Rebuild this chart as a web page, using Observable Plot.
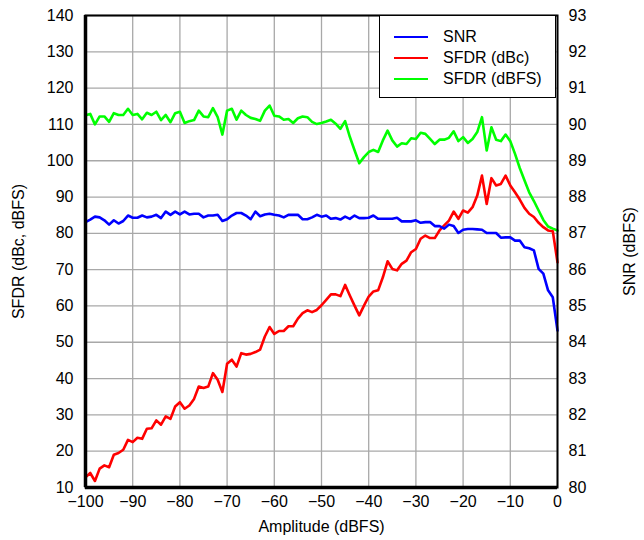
<!DOCTYPE html>
<html>
<head>
<meta charset="utf-8">
<script src="https://cdn.jsdelivr.net/npm/d3@7"></script>
<script src="https://cdn.jsdelivr.net/npm/@observablehq/plot@0.6"></script>
<style>
  html, body { margin: 0; padding: 0; background: white; }
  #wrap { position: relative; width: 644px; height: 540px; font-family: "Liberation Sans", Arial, sans-serif; }
  #legend { position: absolute; left: 379px; top: 15px; width: 175px; height: 81px; border: 1.5px solid black; background: white; }
  .row { position: absolute; left: 0; height: 20px; display: flex; align-items: center; font-size: 16px; color: black; }
  .sw { position: absolute; left: 14px; width: 34px; height: 0; border-top: 2px solid; }
  .lb { position: absolute; left: 63px; white-space: nowrap; }
</style>
</head>
<body>
<div id="wrap"></div>
<script>
const amplitude = [-100,-99,-98,-97,-96,-95,-94,-93,-92,-91,-90,-89,-88,-87,-86,-85,-84,-83,-82,-81,-80,-79,-78,-77,-76,-75,-74,-73,-72,-71,-70,-69,-68,-67,-66,-65,-64,-63,-62,-61,-60,-59,-58,-57,-56,-55,-54,-53,-52,-51,-50,-49,-48,-47,-46,-45,-44,-43,-42,-41,-40,-39,-38,-37,-36,-35,-34,-33,-32,-31,-30,-29,-28,-27,-26,-25,-24,-23,-22,-21,-20,-19,-18,-17,-16,-15,-14,-13,-12,-11,-10,-9,-8,-7,-6,-5,-4,-3,-2,-1,0];

const sfdrDbfs = [112.5,112.9,110.0,112.2,112.2,110.7,113.1,112.6,112.6,114.3,
112.6,112.9,111.4,113.2,112.6,113.5,111.2,112.6,110.6,113.1,
113.5,110.4,110.9,111.2,113.8,112.2,112.0,114.5,112.0,107.2,
113.8,114.3,111.3,113.8,112.6,111.8,111.5,111.0,113.8,115.2,
112.4,112.2,111.3,111.5,110.4,111.7,112.2,112.0,110.7,110.1,
110.4,110.8,111.3,110.2,108.8,110.9,106.6,102.9,99.3,101.0,
102.4,103.0,102.4,105.6,108.3,105.6,103.9,104.8,104.6,106.2,
106.0,107.7,107.4,106.0,104.6,105.8,105.8,106.3,108.1,105.4,
106.5,104.9,106.0,107.9,112.0,102.8,109.2,105.8,105.4,107.2,
105.4,101.9,98.0,94.6,91.3,88.9,86.3,83.7,81.9,81.3,
80.8];

const sfdrDbc = [12.8,14.0,11.8,15.2,16.1,15.6,19.0,19.5,20.4,23.1,
22.5,23.7,23.4,26.2,26.3,28.5,27.3,29.6,28.9,32.3,
33.5,31.7,32.6,34.4,37.8,37.4,37.8,41.5,39.7,36.3,
44.1,45.2,43.3,47.0,46.6,46.8,47.3,48.0,51.6,54.2,
52.3,53.1,53.1,54.4,54.4,56.5,58.0,58.8,58.3,58.9,
60.2,61.7,63.2,63.2,62.7,65.8,62.9,60.1,57.4,60.1,
62.6,64.0,64.3,67.9,72.3,70.2,69.8,71.6,72.5,74.8,
75.7,78.5,79.4,78.7,78.7,80.8,82.2,83.5,86.0,84.0,
86.3,85.7,87.2,90.4,95.9,88.1,95.2,93.2,93.6,95.9,
93.2,91.3,89.3,87.0,85.4,84.5,82.9,81.7,80.8,80.6,
72.0];

const snr = [87.31,87.38,87.46,87.44,87.36,87.24,87.36,87.27,87.34,87.49,
87.43,87.43,87.49,87.44,87.46,87.51,87.42,87.60,87.51,87.60,
87.52,87.60,87.52,87.54,87.54,87.44,87.49,87.49,87.51,87.34,
87.39,87.49,87.56,87.56,87.49,87.39,87.60,87.47,87.52,87.54,
87.51,87.49,87.44,87.51,87.51,87.51,87.39,87.39,87.44,87.51,
87.46,87.49,87.40,87.42,87.38,87.46,87.40,87.49,87.42,87.42,
87.43,87.49,87.40,87.40,87.40,87.40,87.43,87.33,87.33,87.33,
87.36,87.29,87.31,87.31,87.20,87.20,87.13,87.24,87.20,87.01,
87.10,87.12,87.12,87.11,87.10,87.01,87.01,87.01,86.88,86.89,
86.89,86.80,86.80,86.62,86.59,86.53,86.02,85.89,85.43,85.24,
84.32];

const xTicks = [-100,-90,-80,-70,-60,-50,-40,-30,-20,-10,0];
const yTicks = [10,20,30,40,50,60,70,80,90,100,110,120,130,140];
const snrTicks = [80,81,82,83,84,85,86,87,88,89,90,91,92,93];

const seriesNames = ["SNR", "SFDR (dBc)", "SFDR (dBFS)"];
const seriesColors = ["#0000ff", "#ff0000", "#00ff00"];

// map SNR (right axis, 80..93) onto the left scale (10..140)
const snrToLeft = s => (s - 80) * 10 + 10;
const leftToSnr = v => 80 + (v - 10) / 10;

const rows = amplitude.map((a, i) => ({a, snr: snrToLeft(snr[i]), dbc: sfdrDbc[i], dbfs: sfdrDbfs[i]}));

const chart = Plot.plot({
  width: 644,
  height: 540,
  marginLeft: 85,
  marginRight: 87,
  marginTop: 15,
  marginBottom: 53,
  style: {fontFamily: "'Liberation Sans', Arial, sans-serif", fontSize: "16px", background: "white", color: "black", overflow: "visible"},
  x: {domain: [-100, 0]},
  y: {domain: [10, 140]},
  marks: [
    Plot.gridX(xTicks, {stroke: "#a8a8a8", strokeOpacity: 1, strokeWidth: 1.3}),
    Plot.gridY(yTicks, {stroke: "#a8a8a8", strokeOpacity: 1, strokeWidth: 1.3}),
    Plot.axisX(xTicks, {tickSize: 0, tickPadding: 8, fontSize: 16, label: "Amplitude (dBFS)", labelArrow: "none", labelAnchor: "center", labelOffset: 44}),
    Plot.axisY(yTicks, {tickSize: 0, tickPadding: 12, fontSize: 16, label: "SFDR (dBc, dBFS)", labelArrow: "none", labelAnchor: "center", labelOffset: 73}),
    Plot.axisY(snrTicks.map(snrToLeft), {anchor: "right", tickSize: 0, tickPadding: 11, fontSize: 16, tickFormat: d => String(Math.round(leftToSnr(d))), label: "SNR (dBFS)", labelArrow: "none", labelAnchor: "center", labelOffset: 77}),
    Plot.line(rows, {x: "a", y: "dbfs", stroke: seriesColors[2], strokeWidth: 2.6}),
    Plot.line(rows, {x: "a", y: "dbc", stroke: seriesColors[1], strokeWidth: 2.6}),
    Plot.line(rows, {x: "a", y: "snr", stroke: seriesColors[0], strokeWidth: 2.6}),
    Plot.frame({stroke: "black", strokeWidth: 2}),
    Plot.ruleX([-100], {stroke: "black", strokeWidth: 3.5}),
    Plot.ruleY([10], {stroke: "black", strokeWidth: 3.5})
  ]
});

const wrap = document.getElementById("wrap");
wrap.appendChild(chart);

const legend = document.createElement("div");
legend.id = "legend";
seriesNames.forEach((name, i) => {
  const row = document.createElement("div");
  row.className = "row";
  row.style.top = (11 + i * 21) + "px";
  row.style.width = "100%";
  const sw = document.createElement("div");
  sw.className = "sw";
  sw.style.borderTopColor = seriesColors[i];
  const lb = document.createElement("div");
  lb.className = "lb";
  lb.textContent = name;
  row.appendChild(sw);
  row.appendChild(lb);
  legend.appendChild(row);
});
wrap.appendChild(legend);
</script>
</body>
</html>
